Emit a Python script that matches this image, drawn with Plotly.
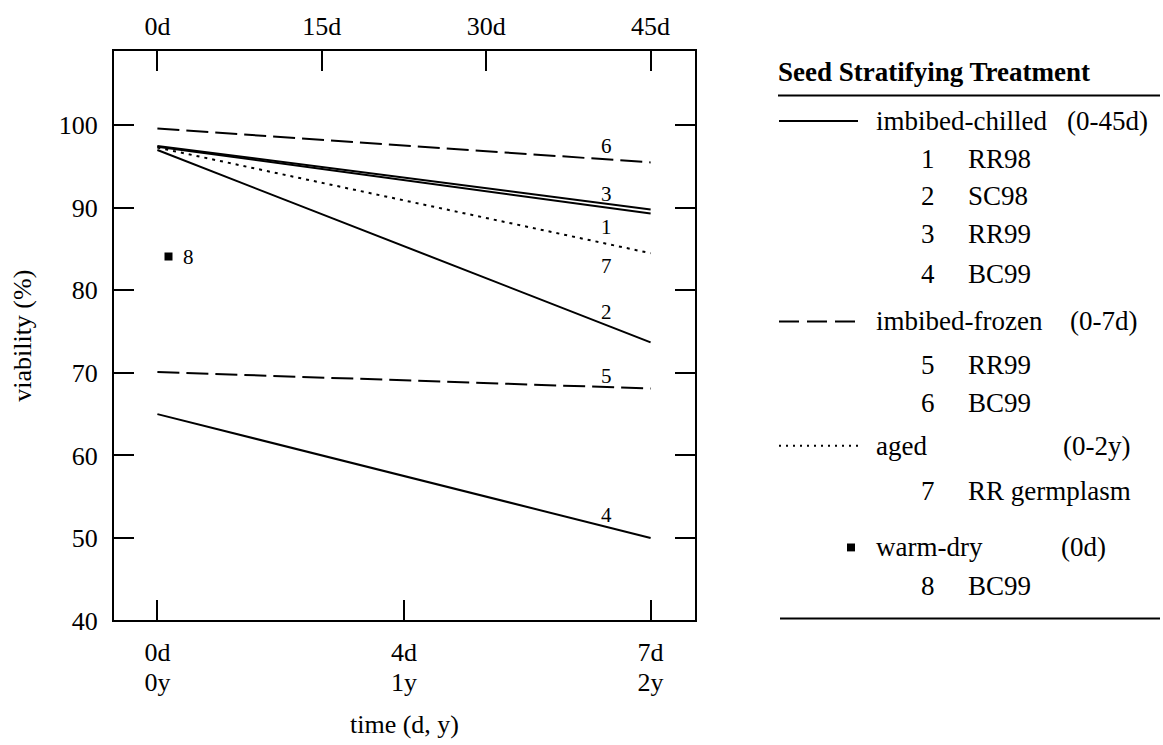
import plotly.graph_objects as go

# ---- data -------------------------------------------------------------
# time axis in years: 0d/0y, 4d/1y, 7d/2y are drawn evenly spaced
t_start = 0
t_end = 2
line_ids = ["1", "2", "3", "4", "5", "6", "7"]
line_names = ["RR98", "SC98", "RR99", "BC99", "RR99", "BC99", "RR germplasm"]
line_treatment = ["chilled", "chilled", "chilled", "chilled", "frozen", "frozen", "aged"]
viability_start = [97.4, 97.0, 97.5, 65.0, 70.1, 99.6, 97.3]
viability_end = [89.3, 73.7, 89.8, 50.0, 68.1, 95.5, 84.5]

warm_dry_id = "8"
warm_dry_t = 0.045
warm_dry_viability = 84.1

bottom_tick_vals = [0, 1, 2]
bottom_day_labels = ["0d", "4d", "7d"]
bottom_year_labels = ["0y", "1y", "2y"]
top_tick_vals = [0, 15, 30, 45]
top_tick_labels = ["0d", "15d", "30d", "45d"]
y_tick_vals = [40, 50, 60, 70, 80, 90, 100]

# ---- styling / placement ---------------------------------------------
FONT = "Liberation Serif"
X_RANGE = [-0.176, 2.18]
Y_RANGE = [40, 109.0]
DASH = {"chilled": "solid", "frozen": "22px,7px", "aged": "3px,5px"}
LABEL_T = 1.82
LABEL_Y = [87.7, 77.4, 91.7, 52.8, 69.6, 97.5, 83.0]

W, H = 1163, 745
ML, MR, MT, MB = 114, 468, 48, 83
PLOT_BOTTOM = 625


def px(x):
    return (x - ML) / (W - ML - MR)


def py(y):
    return (H - MB - y) / (H - MB - MT)


fig = go.Figure()

for i, lid in enumerate(line_ids):
    fig.add_trace(go.Scatter(
        x=[t_start, t_end], y=[viability_start[i], viability_end[i]],
        mode="lines", name=f"{lid} {line_names[i]}",
        line=dict(color="black", width=2, dash=DASH[line_treatment[i]]),
        showlegend=False, hoverinfo="skip",
    ))
    fig.add_annotation(x=LABEL_T, y=LABEL_Y[i], text=lid, showarrow=False,
                       font=dict(family=FONT, size=21, color="black"),
                       xanchor="center", yanchor="middle")

fig.add_trace(go.Scatter(
    x=[warm_dry_t], y=[warm_dry_viability], mode="markers",
    marker=dict(symbol="square", size=8, color="black"),
    showlegend=False, hoverinfo="skip",
))
fig.add_annotation(x=warm_dry_t + 0.08, y=warm_dry_viability, text=warm_dry_id,
                   showarrow=False, font=dict(family=FONT, size=21, color="black"),
                   xanchor="center", yanchor="middle")

tick_font = dict(family=FONT, size=26, color="black")
title_font = dict(family=FONT, size=26, color="black")
ydom0 = (H - MB - PLOT_BOTTOM) / (H - MB - MT)

fig.update_layout(
    width=W, height=H,
    margin=dict(l=ML, r=MR, t=MT, b=MB, pad=0),
    paper_bgcolor="white", plot_bgcolor="white",
    font=dict(family=FONT, color="black"),
    xaxis=dict(range=X_RANGE, tickvals=bottom_tick_vals, ticktext=bottom_day_labels,
               ticks="inside", ticklen=20, tickwidth=2, tickcolor="black",
               showline=True, linewidth=2, linecolor="black", mirror=False,
               showgrid=False, zeroline=False, tickfont=tick_font,
               anchor="y", ticklabelstandoff=7),
    xaxis2=dict(range=[X_RANGE[0] * 22.5, X_RANGE[1] * 22.5], overlaying="x",
                side="top", anchor="y", tickvals=top_tick_vals, ticktext=top_tick_labels,
                ticks="inside", ticklen=20, tickwidth=2, tickcolor="black",
                showline=True, linewidth=2, linecolor="black",
                showgrid=False, zeroline=False, tickfont=tick_font,
                ticklabelstandoff=4),
    xaxis3=dict(range=X_RANGE, overlaying="x", side="bottom", anchor="free",
                position=0, tickvals=bottom_tick_vals, ticktext=bottom_year_labels,
                ticks="", showline=False, showgrid=False, zeroline=False,
                tickfont=tick_font, ticklabelstandoff=7,
                title=dict(text="time (d, y)", font=title_font, standoff=18)),
    yaxis=dict(range=Y_RANGE, domain=[ydom0, 1], tickvals=y_tick_vals,
               ticks="inside", ticklen=20, tickwidth=2, tickcolor="black",
               showline=True, linewidth=2, linecolor="black", mirror="ticks",
               showgrid=False, zeroline=False, tickfont=tick_font,
               ticklabelstandoff=9,
               title=dict(text="viability (%)", font=title_font, standoff=20)),
)

# empty traces so the extra axes are drawn
fig.add_trace(go.Scatter(x=[None], y=[None], xaxis="x2", showlegend=False))
fig.add_trace(go.Scatter(x=[None], y=[None], xaxis="x3", showlegend=False))

# ---- treatment key (right side) ---------------------------------------
key_font = dict(family=FONT, size=27, color="black")


def key_text(x, y, text, bold=False):
    fig.add_annotation(xref="paper", yref="paper", x=px(x), y=py(y),
                       text=f"<b>{text}</b>" if bold else text, showarrow=False,
                       xanchor="left", yanchor="middle", font=key_font)


def key_rule(x0, x1, y, dash="solid", width=2):
    fig.add_shape(type="line", xref="paper", yref="paper",
                  x0=px(x0), x1=px(x1), y0=py(y), y1=py(y),
                  line=dict(color="black", width=width, dash=dash))


key_text(776, 69, "Seed Stratifying Treatment", bold=True)
key_rule(778, 1160, 93)

groups = [
    ("solid", "imbibed-chilled", "(0-45d)", 119, 1065, [0, 1, 2, 3], [157, 195, 233, 274]),
    ("20px,8px", "imbibed-frozen", "(0-7d)", 322, 1068, [4, 5], [366, 405]),
    ("2px,5px", "aged", "(0-2y)", 448, 1061, [6], [494]),
]
for dash, gname, grange, gy, rx, members, rows in groups:
    key_rule(779, 858, gy, dash=dash)
    key_text(874, gy, gname)
    key_text(rx, gy, grange)
    for m, ry in zip(members, rows):
        fig.add_annotation(xref="paper", yref="paper", x=px(928), y=py(ry),
                           text=line_ids[m], showarrow=False, xanchor="center",
                           yanchor="middle", font=key_font)
        key_text(966, ry, line_names[m])

# warm-dry entry
fig.add_shape(type="rect", xref="paper", yref="paper",
              x0=px(847), x1=px(855), y0=py(555), y1=py(547),
              fillcolor="black", line=dict(width=0))
key_text(874, 551, "warm-dry")
key_text(1059, 551, "(0d)")
fig.add_annotation(xref="paper", yref="paper", x=px(928), y=py(590),
                   text=warm_dry_id, showarrow=False, xanchor="center",
                   yanchor="middle", font=key_font)
key_text(966, 590, "BC99")
key_rule(780, 1160, 623)

fig.write_html("out.html")
